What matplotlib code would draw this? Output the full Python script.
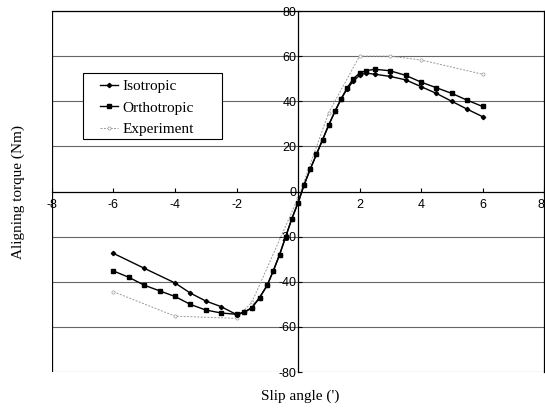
import numpy as np
import matplotlib
matplotlib.use('Agg')
import matplotlib.pyplot as plt
from matplotlib.patches import Rectangle

plt.rcParams['axes.unicode_minus'] = False

# slip angle (deg) and aligning torque (Nm)
iso_x = [-6, -5, -4, -3.5, -3, -2.5, -2, -1.75, -1.5, -1.25, -1, -0.8, -0.6, -0.4, -0.2, 0,
         0.2, 0.4, 0.6, 0.8, 1, 1.2, 1.4, 1.6, 1.8, 2, 2.2, 2.5, 3, 3.5, 4, 4.5, 5, 5.5, 6]
iso_y = [-27.4, -34, -40.5, -45, -48.5, -51, -54.5, -53.5, -51.5, -47, -41.5, -35, -28, -20, -12, -5,
         3, 10, 16.5, 23, 29.5, 35.5, 41, 45.5, 49, 51.5, 52.5, 52, 51, 49.5, 46.5, 43.5, 40, 36.5, 33.2]

ort_x = [-6, -5.5, -5, -4.5, -4, -3.5, -3, -2.5, -2, -1.75, -1.5, -1.25, -1, -0.8, -0.6, -0.4, -0.2, 0,
         0.2, 0.4, 0.6, 0.8, 1, 1.2, 1.4, 1.6, 1.8, 2, 2.2, 2.5, 3, 3.5, 4, 4.5, 5, 5.5, 6]
ort_y = [-35.2, -38, -41.5, -44, -46.5, -50, -52.5, -53.8, -54.4, -53.5, -51.5, -47, -41.5, -35, -28, -20, -12, -5,
         3, 10, 16.5, 23, 29.5, 35.5, 41, 46, 50, 52.5, 53.5, 54.2, 53.5, 51.5, 48.5, 46, 43.5, 40.5, 37.7]

exp_x = [-6, -4, -2, -1.5, 0, 1, 2, 3, 4, 6]
exp_y = [-44.4, -55.2, -56.2, -49, -3, 35, 60, 60, 58.3, 52]

xticks = [-8, -6, -4, -2, 2, 4, 6, 8]
yticks = [-80, -60, -40, -20, 0, 20, 40, 60, 80]

fig = plt.figure(figsize=(5.45, 4.08), dpi=100)
ax = fig.add_axes([0.0954, 0.088, 0.9028, 0.885])

for yv in yticks:
    if yv != 0:
        ax.axhline(yv, color='0.4', lw=0.8, zorder=1)
ax.axvline(-8, color='k', lw=0.9, zorder=1)

ax.plot(exp_x, exp_y, color='0.6', lw=0.7, linestyle=(0, (2, 1.5)), marker='o',
        markersize=2.3, markerfacecolor='white', markeredgewidth=0.5, label='Experiment', zorder=2)
ax.plot(iso_x, iso_y, color='k', lw=1.0, marker='D', markersize=2.2, label='Isotropic', zorder=3)
ax.plot(ort_x, ort_y, color='k', lw=1.0, marker='s', markersize=2.6, label='Orthotropic', zorder=3)

ax.set_xlim(-8, 8)
ax.set_ylim(-80, 80)
ax.spines['left'].set_position(('data', 0))
ax.spines['bottom'].set_position(('data', 0))
for s in ax.spines.values():
    s.set_linewidth(0.9)

ax.set_xticks(xticks)
ax.set_yticks(yticks)
ax.tick_params(axis='x', direction='in', length=3, labelsize=9, pad=5)
ax.tick_params(axis='y', direction='in', length=3, labelsize=9, pad=1)
for lab in ax.get_xticklabels() + ax.get_yticklabels():
    lab.set_fontfamily('Liberation Sans')
ax.get_xticklabels()[-1].set_horizontalalignment('right')

fig.text(0.033, 0.53, 'Aligning torque (Nm)', rotation=90, ha='center', va='center',
         family='Liberation Serif', fontsize=11)
fig.text(0.55, 0.03, "Slip angle (')", ha='center', va='center',
         family='Liberation Serif', fontsize=11)

# legend box drawn separately so it can be wider than the text needs
ax.add_patch(Rectangle((0.063, 0.645), 0.282, 0.183, transform=ax.transAxes,
                       facecolor='white', edgecolor='k', lw=0.8, zorder=5))
h, l = ax.get_legend_handles_labels()
leg = ax.legend([h[1], h[2], h[0]], [l[1], l[2], l[0]], loc='upper left',
                bbox_to_anchor=(0.098, 0.81), frameon=False,
                handlelength=1.15, handletextpad=0.3, borderpad=0.0, borderaxespad=0.0,
                labelspacing=0.5, prop={'family': 'Liberation Serif', 'size': 11})
leg.set_zorder(6)

fig.savefig('out.png', dpi=100)
